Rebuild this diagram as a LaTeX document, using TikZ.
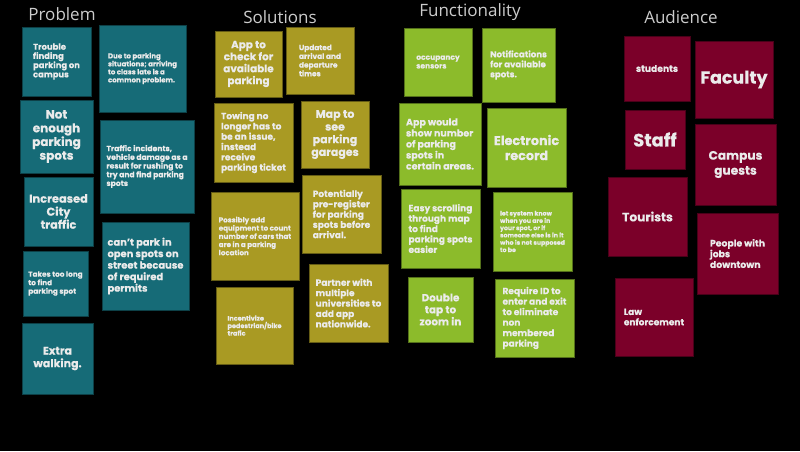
\documentclass[tikz,border=0pt]{standalone}
\usepackage{fontspec}
\setmainfont{Poppins}[BoldFeatures={FakeBold=0.3}]
\newfontfamily\titlefont{Open Sans}

\definecolor{probcol}{HTML}{166B77}
\definecolor{solcol}{HTML}{A99A23}
\definecolor{funcol}{HTML}{8CBB2B}
\definecolor{audcol}{HTML}{7B0029}
\definecolor{cardtext}{HTML}{EBEBEB}
\definecolor{titletext}{HTML}{CCCCCC}

\newcommand{\cardsize}[2]{\fontsize{#1}{#2}\selectfont\bfseries}

\tikzset{
	card/.style={inner sep=0pt, align=left, text=cardtext, line width=0.6pt},
	prob/.style={card, fill=probcol, draw=probcol!60!black},
	sol/.style={card, fill=solcol, draw=solcol!60!black},
	fun/.style={card, fill=funcol, draw=funcol!60!black},
	aud/.style={card, fill=audcol, draw=audcol!60!black},
	title/.style={text=titletext, font=\titlefont\fontsize{17}{20}\selectfont}
}

\begin{document}
\begin{tikzpicture}[x=1pt,y=-1pt]
\fill[black] (0,0) rectangle (800,451);
\useasboundingbox (0,0) rectangle (800,451);

% problem
\node[title] (tprob) at (62,14) {Problem};
\node[prob, minimum width=69pt, minimum height=69pt, font=\cardsize{8.4}{9.2}] (p1) at (56.5,61.5) {Trouble\\finding\\parking on\\campus};
\node[prob, minimum width=87pt, minimum height=87pt, font=\cardsize{7}{8}] (p2) at (142.5,68.5) {Due to parking\\situations; arriving\\to class late is a\\common problem.};
\node[prob, minimum width=73pt, minimum height=73pt, font=\cardsize{12}{13.7}, align=center] (p3) at (56.5,136.5) {Not\\enough\\parking\\spots};
\node[prob, minimum width=94pt, minimum height=93pt, font=\cardsize{7.6}{8.7}] (p4) at (147,166.5) {Traffic incidents,\\vehicle damage as a\\result for rushing to\\try and find parking\\spots};
\node[prob, minimum width=69pt, minimum height=69pt, font=\cardsize{11.4}{13}, align=center] (p5) at (58.5,211.5) {Increased\\City\\traffic};
\node[prob, minimum width=65pt, minimum height=65pt, font=\cardsize{7.3}{8.5}] (p6) at (55.5,283.5) {Takes too long\\to find\\parking spot};
\node[prob, minimum width=87pt, minimum height=88pt, font=\cardsize{9.9}{11.5}] (p7) at (145.5,266) {can't park in\\open spots on\\street because\\of required\\permits};
\node[prob, minimum width=71pt, minimum height=71pt, font=\cardsize{11}{12.7}, align=center] (p8) at (57.5,358.5) {Extra\\walking.};

% solutions
\node[title] (tsol) at (280,17) {Solutions};
\node[sol, minimum width=67pt, minimum height=66pt, font=\cardsize{10.4}{12}, align=center] (s1) at (248.5,64) {App to\\check for\\available\\parking};
\node[sol, minimum width=68pt, minimum height=67pt, font=\cardsize{7.4}{8.7}] (s2) at (320,60.5) {Updated\\arrival and\\departure\\times};
\node[sol, minimum width=79pt, minimum height=79pt, font=\cardsize{9}{10.3}] (s3) at (253.5,142.5) {Towing no\\longer has to\\be an issue,\\instead\\receive\\parking ticket};
\node[sol, minimum width=68pt, minimum height=67pt, font=\cardsize{11}{12.7}, align=center] (s4) at (335,134.5) {Map to\\see\\parking\\garages};
\node[sol, minimum width=79pt, minimum height=78pt, font=\cardsize{9}{10.3}] (s5) at (341.5,214) {Potentially\\pre-register\\for parking\\spots before\\arrival.};
\node[sol, minimum width=88pt, minimum height=88pt, font=\cardsize{7.1}{8.2}] (s6) at (255,236) {Possibly add\\equipment to count\\number of cars that\\are in a parking\\location};
\node[sol, minimum width=77pt, minimum height=77pt, font=\cardsize{6.5}{7.5}] (s7) at (254.5,325.5) {Incentivize\\pedestrian/bike\\trafic};
\node[sol, minimum width=79pt, minimum height=78pt, font=\cardsize{9}{10.4}] (s8) at (348.5,303) {Partner with\\multiple\\universities to\\add app\\nationwide.};

% functionality
\node[title] (tfun) at (470,12) {Functionality};
\node[fun, minimum width=68pt, minimum height=68pt, font=\cardsize{7.5}{8.7}] (f1) at (438,62) {occupancy\\sensors};
\node[fun, minimum width=73pt, minimum height=74pt, font=\cardsize{8.6}{10}] (f2) at (518.5,65) {Notifications\\for available\\spots.};
\node[fun, minimum width=82pt, minimum height=82pt, font=\cardsize{9.5}{11}] (f3) at (440,144) {App would\\show number\\of parking\\spots in\\certain areas.};
\node[fun, minimum width=79pt, minimum height=79pt, font=\cardsize{12.8}{15}, align=center] (f4) at (526.5,147.5) {Electronic\\record};
\node[fun, minimum width=79pt, minimum height=79pt, font=\cardsize{9}{10.4}] (f5) at (440.5,228.5) {Easy scrolling\\through map\\to find\\parking spots\\easier};
\node[fun, minimum width=79pt, minimum height=79pt, font=\cardsize{6.2}{7.3}] (f6) at (532.5,231.5) {let system know\\when you are in\\your spot, or if\\someone else is in it\\who is not supposed\\to be};
\node[fun, minimum width=65pt, minimum height=65pt, font=\cardsize{10.4}{12}, align=center] (f7) at (440.5,309.5) {Double\\tap to\\zoom in};
\node[fun, minimum width=79pt, minimum height=78pt, font=\cardsize{9}{10.5}] (f8) at (534.5,318) {Require ID to\\enter and exit\\to eliminate\\non\\membered\\parking};

% audience
\node[title] (taud) at (681,17) {Audience};
\node[aud, minimum width=66pt, minimum height=65pt, font=\cardsize{9.2}{11}, align=center] (a1) at (657,68.5) {students};
\node[aud, minimum width=78pt, minimum height=77pt, font=\cardsize{17.5}{20}, align=center] (a2) at (734,79.5) {Faculty};
\node[aud, minimum width=60pt, minimum height=59pt, font=\cardsize{18}{20}, align=center] (a3) at (655,139.5) {Staff};
\node[aud, minimum width=81pt, minimum height=81pt, font=\cardsize{12.2}{15}, align=center] (a4) at (735.5,164.5) {Campus\\guests};
\node[aud, minimum width=79pt, minimum height=79pt, font=\cardsize{12.2}{14}] (a5) at (647.5,216.5) {Tourists};
\node[aud, minimum width=81pt, minimum height=81pt, font=\cardsize{9.3}{10.7}] (a6) at (737.5,253.5) {People with\\jobs\\downtown};
\node[aud, minimum width=78pt, minimum height=78pt, font=\cardsize{9}{10.3}] (a7) at (654,317) {Law\\enforcement};

\end{tikzpicture}
\end{document}
